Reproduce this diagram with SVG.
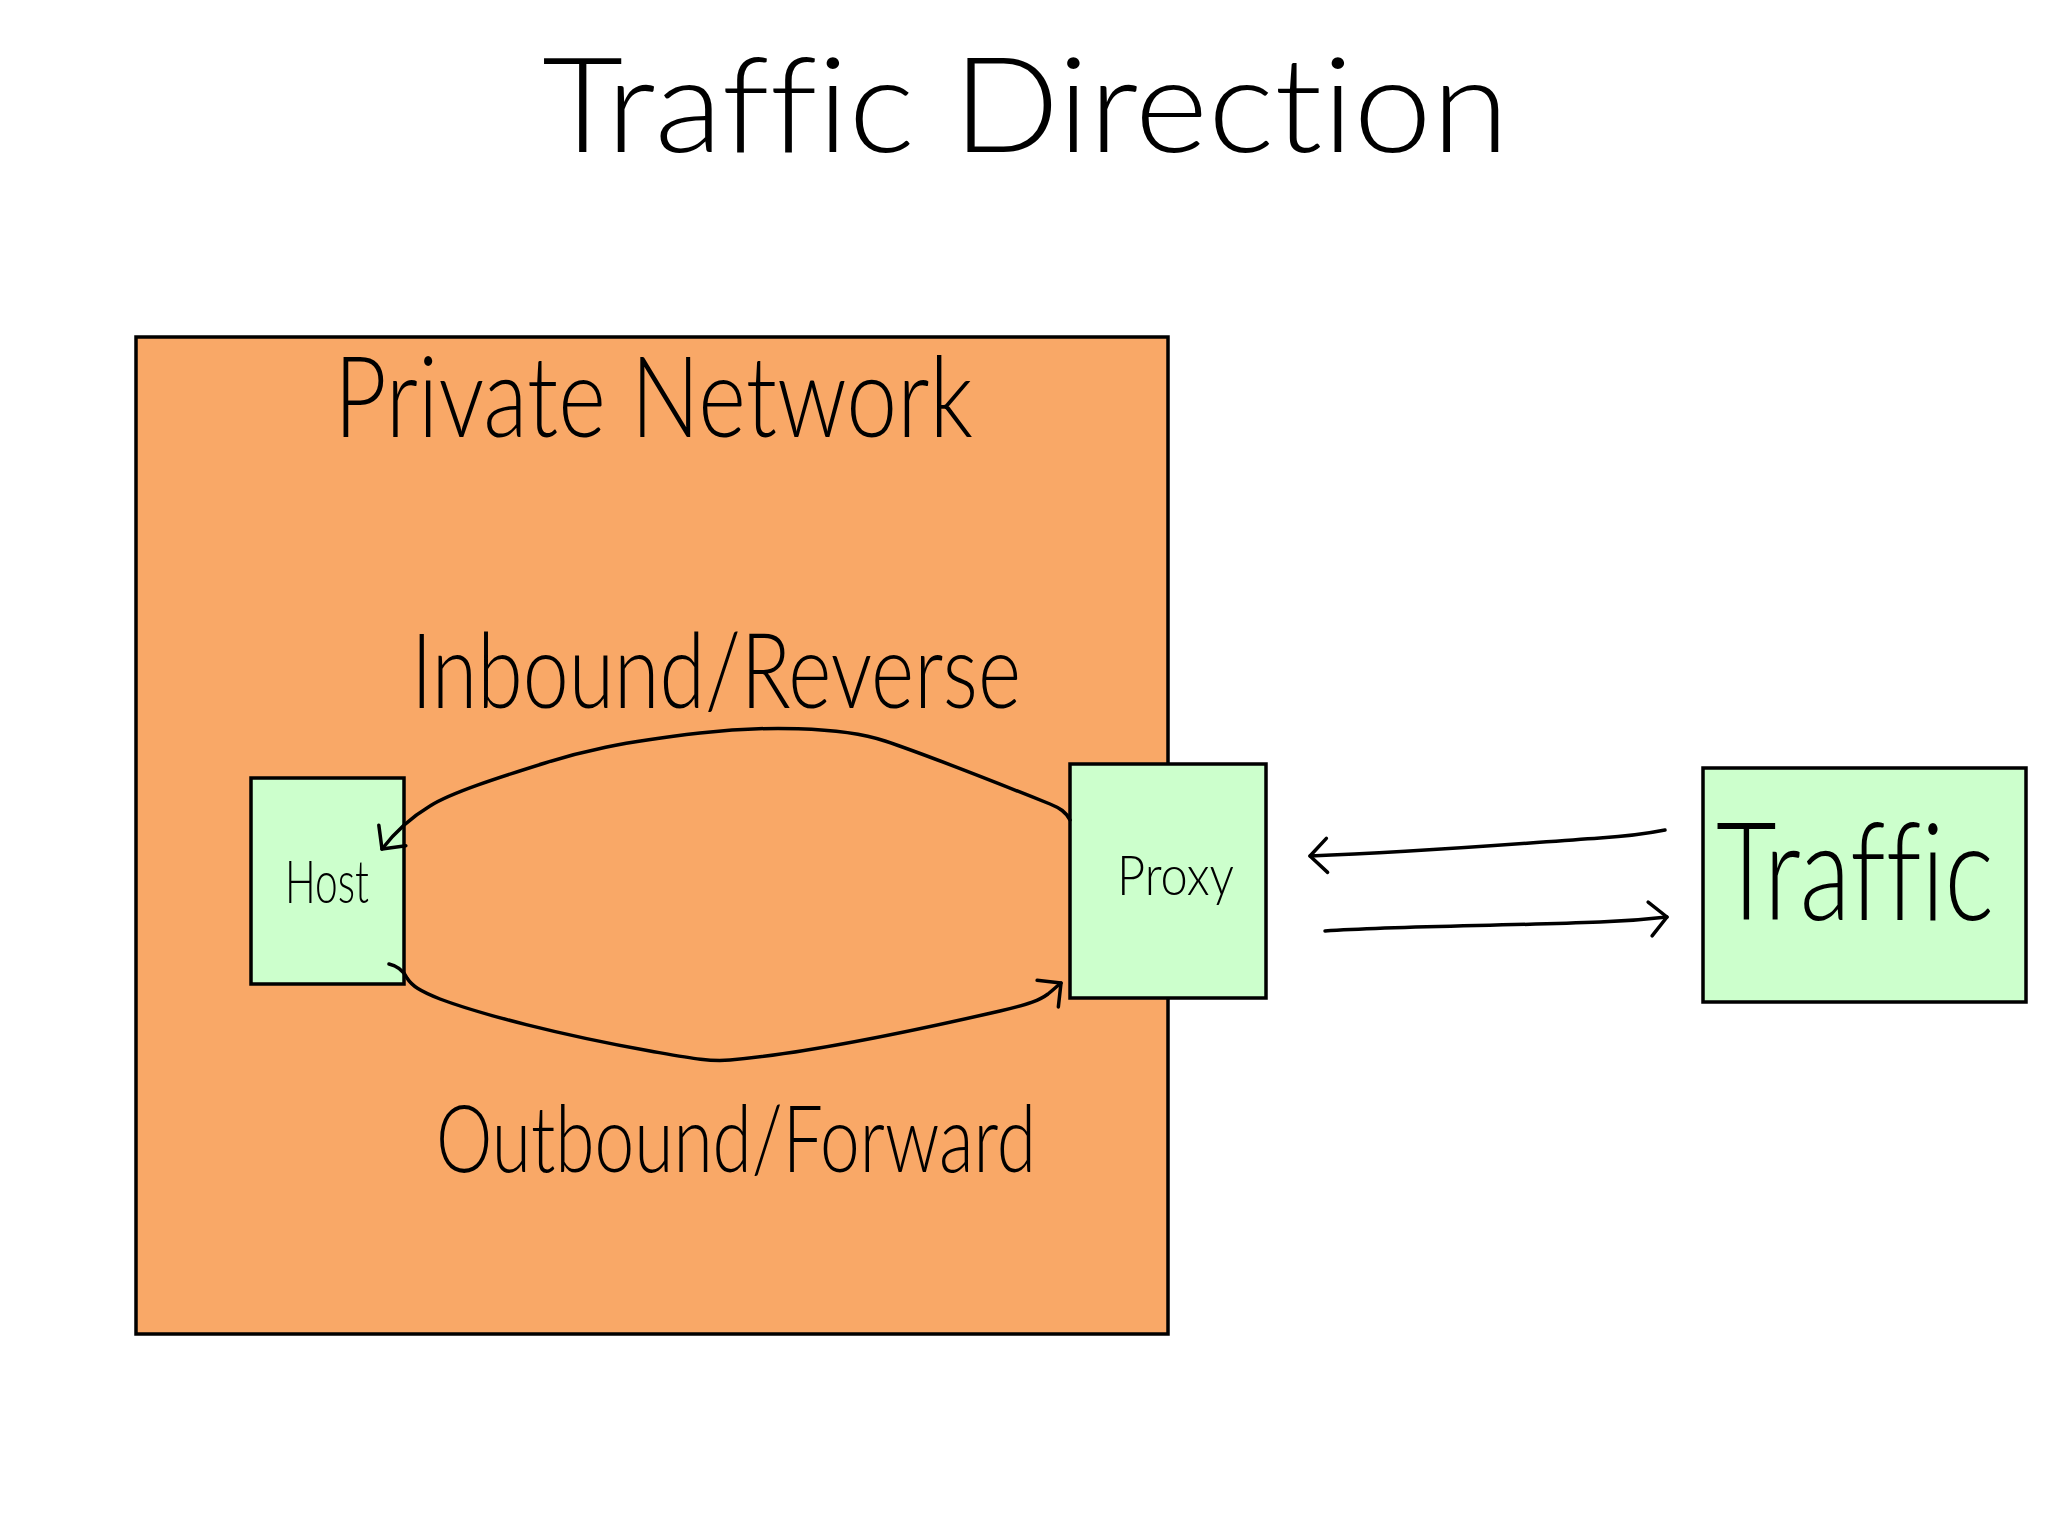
<svg xmlns="http://www.w3.org/2000/svg" width="2048" height="1536" viewBox="0 0 2048 1536">
<defs>
<style>
.box{stroke:#000;stroke-width:3.5}
.net{fill:#F9A867}
.green{fill:#CCFFCC}
.hand{font-family:Lato,"Open Sans","Liberation Sans",sans-serif;font-weight:300;fill:#000;font-variant-ligatures:none;font-feature-settings:"liga" 0}
.conn{fill:none;stroke:#000;stroke-width:3.5;stroke-linecap:round;stroke-linejoin:round}
</style>
<marker id="arrow" markerUnits="userSpaceOnUse" markerWidth="40" markerHeight="40" refX="0" refY="0" viewBox="-22 -20 26 40" orient="auto" overflow="visible">
<path d="M -17 -17 L 0 0 L -17 17" fill="none" stroke="#000" stroke-width="3.5" stroke-linecap="round" stroke-linejoin="round"/>
</marker>
</defs>
<rect width="2048" height="1536" fill="#fff"/>
<g id="title">
<text class="hand" x="542" y="152" font-size="132" textLength="967" lengthAdjust="spacingAndGlyphs">Traffic Direction</text>
</g>
<g id="private-network">
<rect class="box net" x="136" y="337" width="1032" height="997"/>
<text class="hand" x="334" y="437" font-size="112" textLength="639" lengthAdjust="spacingAndGlyphs">Private Network</text>
</g>
<g id="host">
<rect class="box green" x="251" y="778" width="153" height="206"/>
<text class="hand" x="285" y="903" font-size="60" textLength="84" lengthAdjust="spacingAndGlyphs">Host</text>
</g>
<g id="proxy">
<rect class="box green" x="1070" y="764" width="196" height="234"/>
<text class="hand" x="1117" y="895" font-size="56" textLength="117" lengthAdjust="spacingAndGlyphs">Proxy</text>
</g>
<g id="traffic">
<rect class="box green" x="1703" y="768" width="323" height="234"/>
<text class="hand" transform="translate(1716,920) scale(0.77,1)" x="0" y="0" font-size="136">Traffic</text>
</g>
<g id="labels">
<text class="hand" x="411" y="708" font-size="104" textLength="610" lengthAdjust="spacingAndGlyphs">Inbound/Reverse</text>
<text class="hand" x="436" y="1172" font-size="92" textLength="600" lengthAdjust="spacingAndGlyphs">Outbound/Forward</text>
</g>
<g id="connectors">
<path class="conn" marker-end="url(#arrow)" d="M 1070 820 C 1066 812 1060 808 1050 804 C 1000 784 930 756 885 741 C 840 726 760 726 700 733 C 620 742 580 752 545 763 C 500 777 450 793 430 806 C 410 818 395 832 382 849"/>
<path class="conn" marker-end="url(#arrow)" d="M 389 964 C 398 966 404 972 407 978 C 412 986 420 991 440 999 C 480 1014 560 1035 650 1051 C 690 1058 710 1062 730 1060 C 800 1054 900 1034 1000 1011 C 1030 1004 1040 1000 1048 994 C 1053 990 1056 987 1061 983"/>
<path class="conn" marker-end="url(#arrow)" d="M 1665 830 C 1650 833 1630 836 1600 838 C 1500 845 1420 852 1310 856"/>
<path class="conn" marker-end="url(#arrow)" d="M 1325 931 C 1400 926 1500 926 1600 922 C 1630 921 1650 919 1667 917"/>
</g>
</svg>
